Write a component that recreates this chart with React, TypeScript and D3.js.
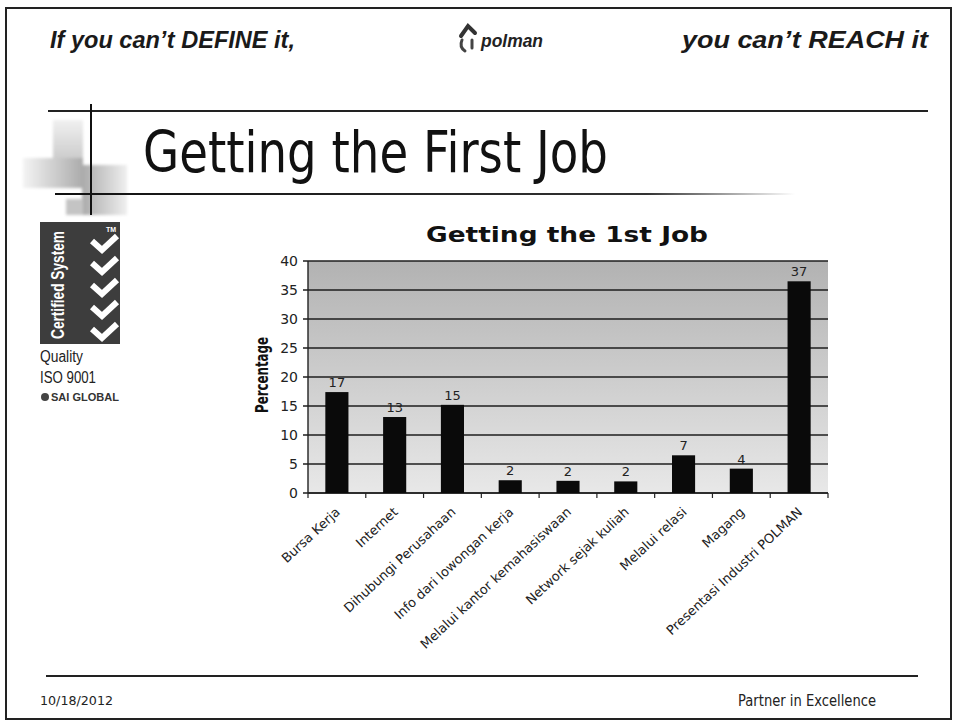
import React, { useEffect, useRef } from 'react';
import * as d3 from 'd3';

// chart data
const categories = [
  'Bursa Kerja',
  'Internet',
  'Dihubungi Perusahaan',
  'Info dari lowongan kerja',
  'Melalui kantor kemahasiswaan',
  'Network sejak kuliah',
  'Melalui relasi',
  'Magang',
  'Presentasi Industri POLMAN',
];
const percentages = [17.4, 13.1, 15.2, 2.2, 2.1, 2.0, 6.5, 4.2, 36.5];
const valueLabels = ['17', '13', '15', '2', '2', '2', '7', '4', '37'];
const yTicks = [0, 5, 10, 15, 20, 25, 30, 35, 40];

const W = 954;
const H = 724;

const App = () => {
  const ref = useRef<SVGSVGElement>(null);

  useEffect(() => {
    const svg = d3.select(ref.current);
    svg.selectAll('*').remove();

    const defs = svg.append('defs');
    const plotGrad = defs.append('linearGradient').attr('id', 'plotBg')
      .attr('x1', 0).attr('y1', 0).attr('x2', 0).attr('y2', 1);
    plotGrad.append('stop').attr('offset', '0%').attr('stop-color', '#b2b2b2');
    plotGrad.append('stop').attr('offset', '100%').attr('stop-color', '#e8e8e8');

    const lineGrad = defs.append('linearGradient').attr('id', 'lineFade')
      .attr('x1', 0).attr('y1', 0).attr('x2', 1).attr('y2', 0);
    lineGrad.append('stop').attr('offset', '0%').attr('stop-color', '#111');
    lineGrad.append('stop').attr('offset', '80%').attr('stop-color', '#333');
    lineGrad.append('stop').attr('offset', '100%').attr('stop-color', '#fff');

    const blur = defs.append('filter').attr('id', 'soft');
    blur.append('feGaussianBlur').attr('stdDeviation', 1.5);

    const sqGrad = (id, c1, c2, horiz) => {
      const g = defs.append('linearGradient').attr('id', id)
        .attr('x1', 0).attr('y1', 0).attr('x2', horiz ? 1 : 0).attr('y2', horiz ? 0 : 1);
      g.append('stop').attr('offset', '0%').attr('stop-color', c1);
      g.append('stop').attr('offset', '100%').attr('stop-color', c2);
    };
    sqGrad('sqA', '#f0f0f0', '#cdcdcd', false);
    sqGrad('sqB', '#f4f4f4', '#ababab', true);
    sqGrad('sqC', '#aaaaaa', '#efefef', true);

    // slide background and frame
    svg.append('rect').attr('width', W).attr('height', H).attr('fill', '#fff');
    svg.append('rect').attr('x', 6).attr('y', 8).attr('width', 945).attr('height', 711)
      .attr('fill', 'none').attr('stroke', '#222').attr('stroke-width', 2);

    // header
    svg.append('text').attr('x', 50).attr('y', 48)
      .attr('font-family', 'Liberation Sans, Arial, sans-serif')
      .attr('font-style', 'italic').attr('font-weight', 'bold').attr('font-size', 23)
      .attr('textLength', 245).attr('lengthAdjust', 'spacingAndGlyphs')
      .attr('fill', '#1a1a1a').text('If you can\u2019t DEFINE it,');
    svg.append('text').attr('x', 928).attr('y', 48).attr('text-anchor', 'end')
      .attr('font-family', 'Liberation Sans, Arial, sans-serif')
      .attr('font-style', 'italic').attr('font-weight', 'bold').attr('font-size', 23)
      .attr('textLength', 246).attr('lengthAdjust', 'spacingAndGlyphs')
      .attr('fill', '#1a1a1a').text('you can\u2019t REACH it');

    // polman logo
    const logo = svg.append('g').attr('fill', 'none').attr('stroke-linecap', 'round');
    logo.append('path').attr('d', 'M461,36 L468,26 L475,33').attr('stroke', '#333').attr('stroke-width', 4);
    logo.append('path').attr('d', 'M462,40 Q459,47 465,51').attr('stroke', '#444').attr('stroke-width', 3);
    logo.append('path').attr('d', 'M472,40 L472,48').attr('stroke', '#444').attr('stroke-width', 3);
    svg.append('text').attr('x', 481).attr('y', 47)
      .attr('font-family', 'Liberation Sans, Arial, sans-serif')
      .attr('font-style', 'italic').attr('font-weight', 'bold').attr('font-size', 19)
      .attr('textLength', 62).attr('lengthAdjust', 'spacingAndGlyphs')
      .attr('fill', '#222').text('polman');

    // decorative squares
    const deco = svg.append('g').attr('filter', 'url(#soft)');
    deco.append('rect').attr('x', 53).attr('y', 120).attr('width', 30).attr('height', 38).attr('fill', 'url(#sqA)');
    deco.append('rect').attr('x', 23).attr('y', 158).attr('width', 60).attr('height', 30).attr('fill', 'url(#sqB)');
    deco.append('rect').attr('x', 82).attr('y', 165).attr('width', 45).attr('height', 50).attr('fill', 'url(#sqC)');
    deco.append('rect').attr('x', 66).attr('y', 199).attr('width', 17).attr('height', 16).attr('fill', '#c4c4c4');

    // title rules
    svg.append('line').attr('x1', 48).attr('x2', 928).attr('y1', 111).attr('y2', 111)
      .attr('stroke', '#222').attr('stroke-width', 2);
    svg.append('line').attr('x1', 91).attr('x2', 91).attr('y1', 104).attr('y2', 215)
      .attr('stroke', '#111').attr('stroke-width', 2);
    svg.append('rect').attr('x', 55).attr('y', 193).attr('width', 740).attr('height', 2)
      .attr('fill', 'url(#lineFade)');

    svg.append('text').attr('x', 143).attr('y', 172)
      .attr('font-family', 'DejaVu Sans, Verdana, sans-serif').attr('font-size', 57)
      .attr('textLength', 465).attr('lengthAdjust', 'spacingAndGlyphs')
      .attr('fill', '#111').text('Getting the First Job');

    // certified system badge
    svg.append('rect').attr('x', 40).attr('y', 222).attr('width', 80).attr('height', 122).attr('fill', '#3d3d3d');
    svg.append('text').attr('transform', 'translate(64,339) rotate(-90)')
      .attr('font-family', 'Liberation Sans, Arial, sans-serif').attr('font-weight', 'bold')
      .attr('font-size', 18).attr('textLength', 108).attr('lengthAdjust', 'spacingAndGlyphs')
      .attr('fill', '#fff').text('Certified System');
    [248, 270, 292, 314, 336].forEach((cy) => {
      svg.append('path').attr('d', `M92,${cy - 7} L102,${cy + 2} L117,${cy - 12}`)
        .attr('fill', 'none').attr('stroke', '#fff').attr('stroke-width', 6);
    });
    svg.append('text').attr('x', 106).attr('y', 232).attr('font-size', 7)
      .attr('font-family', 'Liberation Sans, Arial, sans-serif').attr('font-weight', 'bold')
      .attr('fill', '#fff').text('TM');
    svg.append('text').attr('x', 40).attr('y', 362).attr('font-size', 16)
      .attr('font-family', 'Liberation Sans Narrow, Liberation Sans, Arial, sans-serif')
      .attr('textLength', 43).attr('lengthAdjust', 'spacingAndGlyphs')
      .attr('fill', '#222').text('Quality');
    svg.append('text').attr('x', 40).attr('y', 383).attr('font-size', 16)
      .attr('font-family', 'Liberation Sans Narrow, Liberation Sans, Arial, sans-serif')
      .attr('textLength', 56).attr('lengthAdjust', 'spacingAndGlyphs')
      .attr('fill', '#222').text('ISO 9001');
    svg.append('circle').attr('cx', 45).attr('cy', 397).attr('r', 4).attr('fill', '#444');
    svg.append('text').attr('x', 51).attr('y', 401).attr('font-size', 10)
      .attr('font-family', 'Liberation Sans, Arial, sans-serif').attr('font-weight', 'bold')
      .attr('textLength', 68).attr('lengthAdjust', 'spacingAndGlyphs')
      .attr('fill', '#333').text('SAI GLOBAL');

    // chart
    const m = { left: 308, right: 828, top: 261, bottom: 493 };
    const x = d3.scaleBand().domain(categories).range([m.left, m.right])
      .paddingInner(0.6).paddingOuter(0.3);
    const y = d3.scaleLinear().domain([0, 40]).range([m.bottom, m.top]);
    const step = x.step();

    svg.append('text').attr('x', 567).attr('y', 242).attr('text-anchor', 'middle')
      .attr('font-family', 'DejaVu Sans, Verdana, sans-serif').attr('font-weight', 'bold')
      .attr('font-size', 21).attr('textLength', 282).attr('lengthAdjust', 'spacingAndGlyphs')
      .attr('fill', '#111').text('Getting the 1st Job');

    svg.append('rect').attr('x', m.left).attr('y', m.top)
      .attr('width', m.right - m.left).attr('height', m.bottom - m.top)
      .attr('fill', 'url(#plotBg)');

    const grid = svg.append('g');
    grid.selectAll('line').data(yTicks).enter().append('line')
      .attr('x1', m.left - 5).attr('x2', m.right)
      .attr('y1', (d) => y(d)).attr('y2', (d) => y(d))
      .attr('stroke', '#1e1e1e').attr('stroke-width', 1.4);

    svg.append('g').selectAll('text').data(yTicks).enter().append('text')
      .attr('x', 298).attr('y', (d) => y(d)).attr('dy', '0.35em').attr('text-anchor', 'end')
      .attr('font-family', 'DejaVu Sans, Verdana, sans-serif').attr('font-size', 14)
      .attr('fill', '#222').text((d) => d);

    svg.append('text').attr('transform', `translate(268,${(m.top + m.bottom) / 2 - 2}) rotate(-90)`)
      .attr('text-anchor', 'middle')
      .attr('font-family', 'DejaVu Sans, Verdana, sans-serif').attr('font-weight', 'bold')
      .attr('font-size', 18).attr('textLength', 76).attr('lengthAdjust', 'spacingAndGlyphs')
      .attr('fill', '#111').text('Percentage');

    // axes lines
    svg.append('line').attr('x1', m.left).attr('x2', m.left).attr('y1', m.top).attr('y2', m.bottom)
      .attr('stroke', '#222').attr('stroke-width', 1.4);
    svg.append('line').attr('x1', m.left).attr('x2', m.right).attr('y1', m.bottom).attr('y2', m.bottom)
      .attr('stroke', '#222').attr('stroke-width', 1.4);
    const bounds = d3.range(categories.length + 1).map((i) => m.left + i * step);
    svg.append('g').selectAll('line').data(bounds).enter().append('line')
      .attr('x1', (d) => d).attr('x2', (d) => d).attr('y1', m.bottom).attr('y2', m.bottom + 5)
      .attr('stroke', '#222').attr('stroke-width', 1.2);

    svg.append('g').selectAll('rect').data(percentages).enter().append('rect')
      .attr('x', (d, i) => x(categories[i]))
      .attr('y', (d) => y(d))
      .attr('width', x.bandwidth())
      .attr('height', (d) => m.bottom - y(d))
      .attr('fill', '#0a0a0a');

    svg.append('g').selectAll('text').data(percentages).enter().append('text')
      .attr('x', (d, i) => x(categories[i]) + x.bandwidth() / 2)
      .attr('y', (d) => y(d) - 5)
      .attr('text-anchor', 'middle')
      .attr('font-family', 'DejaVu Sans, Verdana, sans-serif').attr('font-size', 13)
      .attr('fill', '#222').text((d, i) => valueLabels[i]);

    svg.append('g').selectAll('text').data(categories).enter().append('text')
      .attr('transform', (d) => `translate(${x(d) + x.bandwidth() / 2 + 4},${m.bottom + 20}) rotate(-43)`)
      .attr('text-anchor', 'end')
      .attr('font-family', 'DejaVu Sans, Verdana, sans-serif').attr('font-size', 13)
      .attr('fill', '#222').text((d) => d);

    // footer
    svg.append('line').attr('x1', 46).attr('x2', 918).attr('y1', 676).attr('y2', 676)
      .attr('stroke', '#222').attr('stroke-width', 2);
    svg.append('text').attr('x', 40).attr('y', 705)
      .attr('font-family', 'DejaVu Sans, Verdana, sans-serif').attr('font-size', 12)
      .attr('textLength', 73).attr('lengthAdjust', 'spacingAndGlyphs')
      .attr('fill', '#222').text('10/18/2012');
    svg.append('text').attr('x', 876).attr('y', 706).attr('text-anchor', 'end')
      .attr('font-family', 'DejaVu Sans, Verdana, sans-serif').attr('font-size', 15)
      .attr('textLength', 138).attr('lengthAdjust', 'spacingAndGlyphs')
      .attr('fill', '#222').text('Partner in Excellence');
  }, []);

  return (
    <svg ref={ref} width={W} height={H} style={{ position: 'absolute', left: 0, top: 0 }}></svg>
  );
};

export default App;
